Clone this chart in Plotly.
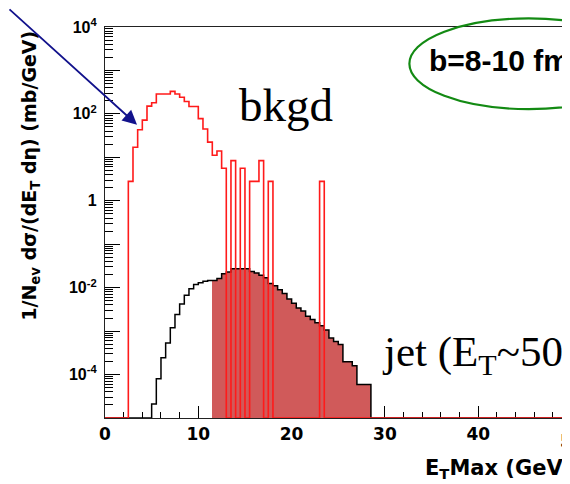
import plotly.graph_objects as go

# ---------------- data ----------------
bin_width = 0.5
# background (bkgd) histogram: first bin starts at 2.5 GeV
bkgd_start = 2.5
bkgd_values = [2.8, 17, 43, 72, 151, 180, 286, 286, 286, 329, 286, 241, 193, 148, 148,
               78, 45, 22.4, 11.2, 14, 5.6, 0, 8.4, 0, 5.6, 0, 2.8, 2.8, 8.4, 0, 2.8,
               0, 0, 0, 0, 0, 0, 0, 0, 0, 0, 2.8]
# jet histogram: first bin starts at 5.0 GeV
jet_start = 5.0
jet_values = [2.1e-5, 8.0e-5, 2.45e-4, 5.3e-4, 1.2e-3, 2.4e-3, 4.2e-3, 6.7e-3, 9.5e-3, 1.19e-2,
              1.3e-2, 1.41e-2, 1.46e-2, 1.46e-2, 1.62e-2, 2.1e-2, 2.29e-2, 2.72e-2, 2.72e-2, 2.72e-2,
              2.72e-2, 2.37e-2, 2.17e-2, 1.93e-2, 1.7e-2, 1.25e-2, 1.1e-2, 8.9e-3, 7.3e-3, 5.5e-3,
              4.4e-3, 3.4e-3, 2.9e-3, 2.2e-3, 1.85e-3, 1.55e-3, 1.33e-3, 1.06e-3, 6.9e-4, 5.8e-4,
              4.9e-4, 1.96e-4, 1.96e-4, 1.59e-4, 5.9e-5, 5.9e-5, 5.9e-5]
fill_from = 11.5  # shaded part of the jet histogram starts here

x_ticks = [0, 10, 20, 30, 40]
x_tick_labels = ["0", "10", "20", "30", "40"]
y_decades = list(range(-5, 5))
y_tick_labels = {4: "10<sup>4</sup>", 2: "10<sup>2</sup>", 0: "1", -2: "10<sup>-2</sup>", -4: "10<sup>-4</sup>"}

# ---------------- helpers ----------------
X_MAX = 49.73
Y_RANGE = [-5, 4]
FLOOR = 10 ** Y_RANGE[0]
FULL_MAX = 60.0
WIDE_BOLD = "DejaVu Sans, Verdana, sans-serif"


def step_xy(start, values):
    """Full-range step outline; empty bins drawn on the axis floor."""
    nb_before = int(round(start / bin_width))
    nb_total = int(round(FULL_MAX / bin_width))
    vals = [0.0] * nb_before + list(values)
    vals += [0.0] * (nb_total - len(vals))
    vals = [v if v > 0 else FLOOR for v in vals]
    xs = [0.0]
    ys = [FLOOR]
    for i, v in enumerate(vals):
        xs.append(i * bin_width)
        ys.append(v)
    xs.append(len(vals) * bin_width)
    ys.append(FLOOR)
    return xs, ys


fig = go.Figure()

# shaded jet region
fill_x = []
fill_y = []
for i, v in enumerate(jet_values):
    lo = jet_start + i * bin_width
    if lo >= fill_from - 1e-9:
        fill_x.append(lo + bin_width / 2)
        fill_y.append(v)
fig.add_trace(go.Bar(x=fill_x, y=fill_y, width=bin_width,
                     marker=dict(color="#d05a5a", line=dict(width=0)),
                     showlegend=False, hoverinfo="skip"))

jx, jy = step_xy(jet_start, jet_values)
fig.add_trace(go.Scatter(x=jx, y=jy, mode="lines", line=dict(color="black", width=1.5, shape="hv"),
                         showlegend=False, hoverinfo="skip"))

bx, by = step_xy(bkgd_start, bkgd_values)
fig.add_trace(go.Scatter(x=bx, y=by, mode="lines", line=dict(color="#ff1a1a", width=1.6, shape="hv"),
                         showlegend=False, hoverinfo="skip"))

minor_y = [k * 10 ** d for d in range(-5, 4) for k in range(2, 10)]

# the browser page adds an 8px body margin, so the figure is shifted accordingly
fig.update_layout(
    width=570, height=484,
    margin=dict(l=97, r=8, t=10, b=74),
    paper_bgcolor="white", plot_bgcolor="white",
    bargap=0, showlegend=False,
    font=dict(family="Liberation Sans, Arial, sans-serif", color="black"),
    xaxis=dict(range=[0, X_MAX], showgrid=False, zeroline=False,
               showline=True, linecolor="#222222", linewidth=1.2, mirror=True,
               ticks="inside", ticklen=12, tickwidth=1, tickcolor="black",
               tickvals=x_ticks, ticktext=x_tick_labels,
               tickfont=dict(family=WIDE_BOLD, size=17, weight="bold"),
               ticklabeloverflow="allow",
               minor=dict(ticks="inside", ticklen=6, dtick=2, tick0=0, tickcolor="black", showgrid=False),
               layer="below traces"),
    yaxis=dict(type="log", range=Y_RANGE, showgrid=False, zeroline=False,
               showline=True, linecolor="#222222", linewidth=1.2, mirror=True,
               ticks="inside", ticklen=15, tickwidth=1, tickcolor="black",
               tickvals=[10 ** d for d in y_decades],
               ticktext=[y_tick_labels.get(d, "") for d in y_decades],
               tickfont=dict(size=16, weight="bold"),
               ticklabelstandoff=4, ticklabeloverflow="allow",
               minor=dict(ticks="inside", ticklen=8, tickvals=minor_y, tickcolor="black", showgrid=False),
               layer="below traces"),
)

# axis titles
fig.add_annotation(text="E<sub>T</sub>Max (GeV)", xref="paper", yref="paper",
                   x=0.686, y=-0.13, xanchor="left", yanchor="middle", showarrow=False,
                   font=dict(family=WIDE_BOLD, size=21, weight="bold"))
fig.add_annotation(text="50", xref="paper", yref="paper",
                   x=50 / X_MAX, y=-0.028, xanchor="center", yanchor="top", showarrow=False,
                   font=dict(family=WIDE_BOLD, size=17, weight="bold"))
fig.add_annotation(text="1/N<sub>ev</sub> dσ/(dE<sub>T</sub>&nbsp;dη) (mb/GeV)",
                   xref="paper", yref="paper",
                   x=-0.16, y=0.995, xanchor="center", yanchor="top", textangle=-90, showarrow=False,
                   font=dict(family=WIDE_BOLD, size=19, weight="bold"))

# in-plot labels
fig.add_annotation(text="bkgd", xref="paper", yref="paper", x=0.285, y=0.80,
                   xanchor="left", yanchor="middle", showarrow=False,
                   font=dict(family="Liberation Serif, Times New Roman, serif", size=47))
fig.add_annotation(text="jet (E<sub>T</sub>~50 GeV)", xref="paper", yref="paper", x=0.592, y=0.16,
                   xanchor="left", yanchor="middle", showarrow=False,
                   font=dict(family="Liberation Serif, Times New Roman, serif", size=43))
fig.add_annotation(text="b=8-10 fm", xref="paper", yref="paper", x=0.695, y=0.915,
                   xanchor="left", yanchor="middle", showarrow=False,
                   font=dict(size=30, weight="bold"))

# green ellipse
fig.add_shape(type="circle", xref="paper", yref="paper", x0=0.656, x1=1.17, y0=0.79, y1=1.022,
              line=dict(color="#138a13", width=2.2))

# navy arrow
fig.add_annotation(text="", xref="paper", yref="paper", x=0.069, y=0.75,
                   ax=-140, ay=-140, showarrow=True, arrowhead=2, arrowsize=1.6,
                   arrowwidth=1.8, arrowcolor="#12128c")

fig.write_html("out.html")
